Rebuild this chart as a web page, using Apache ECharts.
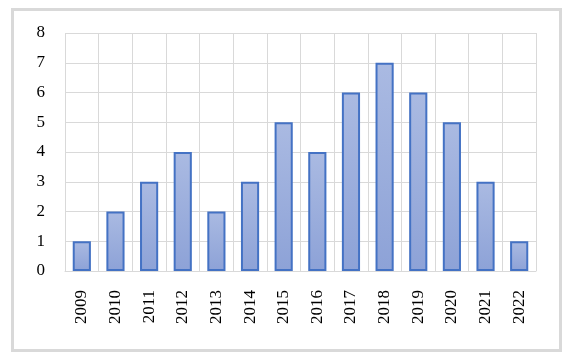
<!DOCTYPE html>
<html><head><meta charset="utf-8">
<script src="https://cdn.jsdelivr.net/npm/echarts@6/dist/echarts.min.js"></script>
<style>html,body{margin:0;padding:0;background:#fff;}#c{width:573px;height:363px;}</style>
</head><body><div id="c"></div>
<script>
const years = ['2009','2010','2011','2012','2013','2014','2015','2016','2017','2018','2019','2020','2021','2022'];
const counts = [1,2,3,4,2,3,5,4,6,7,6,5,3,1];
const yTicks = {min:0, max:8, interval:1};

const chart = echarts.init(document.getElementById('c'), null, {renderer:'canvas'});
const font = '"Liberation Serif","Times New Roman",serif';
chart.setOption({
  animation:false,
  backgroundColor:'#fff',
  graphic:[{type:'rect', shape:{x:12.5,y:9.5,width:548,height:341}, style:{fill:'none',stroke:'#d9d9d9',lineWidth:3}, silent:true}],
  grid:{left:65, top:33, right:37, bottom:92, containLabel:false},
  xAxis:{type:'category', data:years,
    axisLine:{lineStyle:{color:'#d9d9d9',width:1}}, axisTick:{show:false},
    splitLine:{show:true, lineStyle:{color:'#d9d9d9',width:1}},
    axisLabel:{rotate:90, margin:19, color:'#000', fontFamily:font, fontSize:17, interval:0}},
  yAxis:{type:'value', min:yTicks.min, max:yTicks.max, interval:yTicks.interval,
    axisLine:{show:false}, axisTick:{show:false},
    splitLine:{lineStyle:{color:'#d9d9d9',width:1}},
    axisLabel:{color:'#000', fontFamily:font, fontSize:17, margin:20}},
  series:[{type:'bar', data:counts, barWidth:'54%',
    itemStyle:{borderColor:'#4472C4', borderWidth:2,
      color:new echarts.graphic.LinearGradient(0,0,0,1,[{offset:0,color:'#AABAE2'},{offset:1,color:'#8DA2D7'}])}}]
});
</script></body></html>
